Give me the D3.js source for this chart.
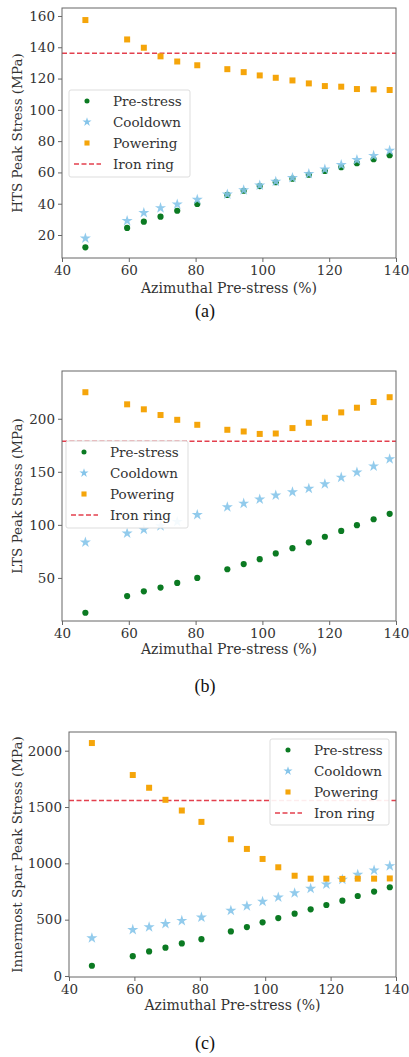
<!DOCTYPE html>
<html>
<head>
<meta charset="utf-8">
<script src="https://cdn.jsdelivr.net/npm/d3@7"></script>
<style>
body { margin: 0; background: white; }
text { font-family: "DejaVu Serif", serif; fill: #333; }
.caption { font-family: "Liberation Serif", serif; fill: #111; }
</style>
</head>
<body>
<svg id="fig" width="409" height="1057"></svg>
<script>
// azimuthal pre-stress levels (%)
var preStress = [47, 59.5, 64.5, 69.5, 74.5, 80.5, 89.5, 94.4, 99.2, 104, 109, 113.9, 118.7, 123.6, 128.3, 133.3, 138.1];

// HTS peak stress (MPa)
var htsPre  = [12.1, 24.5, 28.5, 31.7, 35.5, 39.8, 45.6, 48.3, 51.3, 53.7, 56, 58.5, 60.9, 63.3, 65.9, 68.4, 71];
var htsCool = [17.9, 29.1, 34.2, 37.3, 39.6, 42.6, 46, 48.7, 51.7, 54.2, 56.5, 59.1, 62, 64.8, 68, 70.7, 74];
var htsPow  = [157.4, 145, 139.7, 134.2, 130.9, 128.5, 126, 124.1, 122, 120.5, 118.8, 116.9, 115.2, 114.8, 113.3, 113.1, 112.7];

// LTS peak stress (MPa)
var ltsPre  = [17.2, 32.9, 37.4, 40.9, 45.3, 50, 58.2, 63, 67.7, 73.1, 78, 83.5, 88.8, 94.3, 99.7, 105.3, 110.4];
var ltsCool = [83.5, 92, 95.5, 99, 103, 109.5, 116.7, 120.2, 124, 127.8, 131, 134.3, 138.4, 144.7, 149.6, 155.3, 162.1];
var ltsPow  = [225, 213.6, 208.9, 203.5, 199, 194.3, 189.6, 188, 185.7, 186.1, 191.2, 196.2, 200.9, 206, 210.4, 215.8, 220.3];

// innermost spar peak stress (MPa)
var sparPre  = [91, 176, 218, 251, 289, 327, 396, 434, 476, 514, 553, 592, 630, 669, 710, 749, 788];
var sparCool = [336, 411, 434, 464, 491, 520, 580, 621, 660, 698, 737, 776, 814, 856, 900, 939, 977];
var sparPow  = [2068, 1784, 1671, 1564, 1469, 1368, 1214, 1128, 1039, 965, 890, 864, 864, 862, 864, 864, 866];

var ironRing = [136.2, 178.9, 1557];

var xTicks = [40, 60, 80, 100, 120, 140];
var htsTicks = [20, 40, 60, 80, 100, 120, 140, 160];
var ltsTicks = [50, 100, 150, 200];
var sparTicks = [0, 500, 1000, 1500, 2000];

var seriesNames = ["Pre-stress", "Cooldown", "Powering", "Iron ring"];
var captions = ["(a)", "(b)", "(c)"];

var green = "#0b7a22", blue = "#86c5ea", orange = "#f5a50a", red = "#e3404e";

var panels = [
    {pre: htsPre, cool: htsCool, pow: htsPow, ring: ironRing[0], ticks: htsTicks, ydom: [5.3, 165.1],
     label: "HTS Peak Stress (MPa)", left: 62, top: 8, bottom: 258, legX: 69, legY: 90, legW: 121, legH: 87,
     xlab: 293, cap: 317, caption: captions[0]},
    {pre: ltsPre, cool: ltsCool, pow: ltsPow, ring: ironRing[1], ticks: ltsTicks, ydom: [9.4, 245],
     label: "LTS Peak Stress (MPa)", left: 62, top: 371, bottom: 621, legX: 66, legY: 441, legW: 122, legH: 87,
     xlab: 654, cap: 692, caption: captions[1]},
    {pre: sparPre, cool: sparCool, pow: sparPow, ring: ironRing[2], ticks: sparTicks, ydom: [-9, 2166],
     label: "Innermost Spar Peak Stress (MPa)", left: 69, top: 732, bottom: 977, legX: 270, legY: 739, legW: 119, legH: 86,
     xlab: 1010, cap: 1049, caption: captions[2]}
];

var svg = d3.select("#fig");
var right = 396;

var drawPanel = function(p) {
    var xScale = d3.scaleLinear().domain([40, 140]).range([p.left, right]);
    var yScale = d3.scaleLinear().domain(p.ydom).range([p.bottom, p.top]);
    var g = svg.append("g");

    // dashed iron ring limit
    g.append("line")
        .attr("x1", p.left).attr("x2", right)
        .attr("y1", yScale(p.ring)).attr("y2", yScale(p.ring))
        .attr("stroke", red).attr("stroke-width", 1.5)
        .attr("stroke-dasharray", "5,2.5");

    var pts = function(vals, sym, size, col, op) {
        g.append("g").selectAll("path")
            .data(vals)
            .enter()
            .append("path")
            .attr("d", d3.symbol().type(sym).size(size))
            .attr("transform", function(d, i) { return "translate(" + xScale(preStress[i]) + "," + yScale(d) + ")"; })
            .attr("fill", col)
            .attr("opacity", op);
    };
    pts(p.pre, d3.symbolCircle, 30, green, 1);
    pts(p.cool, d3.symbolStar, 38, blue, 0.9);
    pts(p.pow, d3.symbolSquare, 36, orange, 1);

    // axes
    var xAxis = d3.axisBottom(xScale).tickValues(xTicks).tickSize(4).tickPadding(3);
    var yAxis = d3.axisLeft(yScale).tickValues(p.ticks).tickFormat(d3.format("d")).tickSize(4).tickPadding(3);
    var ax = g.append("g").attr("transform", "translate(0," + p.bottom + ")").call(xAxis);
    var ay = g.append("g").attr("transform", "translate(" + p.left + ",0)").call(yAxis);
    [ax, ay].forEach(function(a) {
        a.select(".domain").remove();
        a.selectAll("line").attr("stroke", "#666");
        a.selectAll("text").attr("font-size", 13.5).attr("fill", "#333")
            .attr("font-family", "DejaVu Serif, serif");
    });
    g.append("rect")
        .attr("x", p.left).attr("y", p.top)
        .attr("width", right - p.left).attr("height", p.bottom - p.top)
        .attr("fill", "none").attr("stroke", "#666").attr("stroke-width", 1);

    // labels
    g.append("text")
        .text("Azimuthal Pre-stress (%)")
        .attr("x", (p.left + right) / 2).attr("y", p.xlab)
        .attr("text-anchor", "middle").attr("font-size", 14);
    g.append("text")
        .text(p.label)
        .attr("transform", "translate(17," + (p.top + p.bottom) / 2 + ") rotate(-90)")
        .attr("text-anchor", "middle").attr("dominant-baseline", "central")
        .attr("font-size", 13.5);
    g.append("text")
        .text(p.caption)
        .classed("caption", true)
        .attr("x", 205).attr("y", p.cap)
        .attr("text-anchor", "middle").attr("font-size", 18);

    // legend
    var leg = g.append("g").attr("transform", "translate(" + p.legX + "," + p.legY + ")");
    leg.append("rect")
        .attr("width", p.legW).attr("height", p.legH)
        .attr("rx", 2)
        .attr("fill", "white").attr("fill-opacity", 0.9)
        .attr("stroke", "#ddd");
    var syms = [d3.symbolCircle, d3.symbolStar, d3.symbolSquare];
    var cols = [green, blue, orange];
    var sizes = [20, 26, 26];
    seriesNames.forEach(function(name, i) {
        var ry = 11 + i * 21;
        if (i < 3) {
            leg.append("path")
                .attr("d", d3.symbol().type(syms[i]).size(sizes[i]))
                .attr("transform", "translate(18," + ry + ")")
                .attr("fill", cols[i]);
        } else {
            leg.append("line")
                .attr("x1", 5).attr("x2", 32).attr("y1", ry).attr("y2", ry)
                .attr("stroke", red).attr("stroke-width", 1.5)
                .attr("stroke-dasharray", "5,2.5");
        }
        leg.append("text")
            .text(name)
            .attr("x", 44).attr("y", ry)
            .attr("dominant-baseline", "central")
            .attr("font-size", 13.5);
    });
};

panels.forEach(drawPanel);
</script>
</body>
</html>
